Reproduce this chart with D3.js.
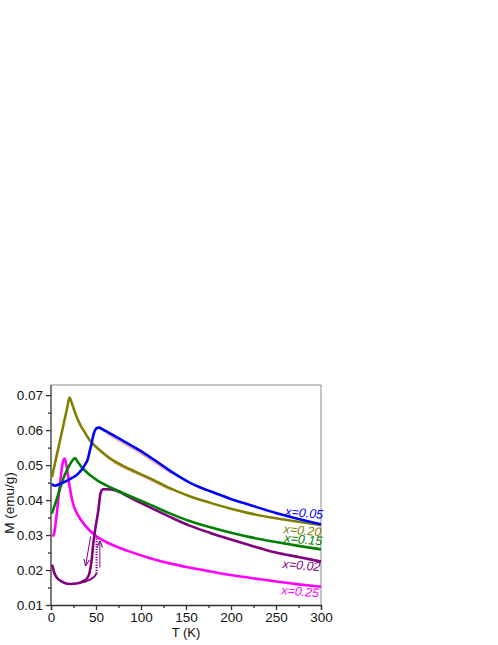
<!DOCTYPE html>
<html>
<head>
<meta charset="utf-8">
<script src="https://cdn.jsdelivr.net/npm/d3@7"></script>
<style>
  body { margin: 0; background: #fff; }
  svg text { font-family: "Liberation Sans", Arial, sans-serif; }
</style>
</head>
<body>
<svg id="chart" width="498" height="645"></svg>
<script>
// temperature (K) and magnetisation (emu/g) per composition
const blueT = [1, 4, 10, 19, 30, 37, 41, 43, 45, 47, 49, 51, 53, 58, 66, 77, 88, 100, 110, 121, 132, 143, 154, 166, 177, 199, 221, 250, 275, 300];
const blueM = [0.0446, 0.0441, 0.0446, 0.0457, 0.0475, 0.0498, 0.0518, 0.0540, 0.0560, 0.0585, 0.0600, 0.0606, 0.0607, 0.0601, 0.0590, 0.0574, 0.0558, 0.0540, 0.0523, 0.0504, 0.0484, 0.0466, 0.0450, 0.0436, 0.0425, 0.0404, 0.0386, 0.0363, 0.0346, 0.0331];

const oliveT = [1, 5, 10, 15, 18, 20.5, 23, 26, 29, 33, 36, 43, 54, 65, 77, 88, 99, 110, 121, 132, 143, 154, 177, 199, 221, 250, 275, 300];
const oliveM = [0.0465, 0.0512, 0.0570, 0.0629, 0.0664, 0.0693, 0.0678, 0.0655, 0.0635, 0.0613, 0.0600, 0.0571, 0.0543, 0.0520, 0.0502, 0.0488, 0.0475, 0.0462, 0.0448, 0.0434, 0.0422, 0.0411, 0.0392, 0.0376, 0.0362, 0.0348, 0.0338, 0.0329];

const greenT = [1, 6, 11.5, 15, 19, 23, 26.5, 30, 34, 40, 45, 51, 63, 73, 86, 99, 110, 132, 154, 177, 199, 221, 250, 275, 300];
const greenM = [0.0361, 0.0400, 0.0445, 0.0470, 0.0492, 0.0510, 0.0520, 0.0508, 0.0494, 0.0479, 0.0468, 0.0457, 0.0440, 0.0428, 0.0413, 0.0399, 0.0387, 0.0362, 0.0340, 0.0322, 0.0307, 0.0294, 0.0280, 0.0269, 0.0259];

const magentaT = [1.5, 3.5, 6, 9.6, 13.3, 15.2, 18, 20.7, 24.4, 30, 37.4, 48.5, 63, 86, 110, 132, 154, 177, 199, 221, 250, 275, 300];
const magentaM = [0.0296, 0.0305, 0.0352, 0.0438, 0.0509, 0.0519, 0.0486, 0.0438, 0.0391, 0.0357, 0.0329, 0.0300, 0.0278, 0.0254, 0.0234, 0.0219, 0.0207, 0.0196, 0.0186, 0.0178, 0.0167, 0.0159, 0.0152];

// x=0.02: cooling branch plus the separate warming branch and its jump
const purpleT = [1, 2, 3.3, 6.3, 12, 21, 30, 36, 40, 42.6, 45.2, 47, 49, 51, 52.6, 55, 58, 62, 71, 86, 99, 110, 132, 154, 177, 199, 221, 250, 275, 300];
const purpleM = [0.0215, 0.0208, 0.0195, 0.0179, 0.0167, 0.0160, 0.0162, 0.0168, 0.0176, 0.0190, 0.0229, 0.0276, 0.0314, 0.0345, 0.0371, 0.0419, 0.0431, 0.0431, 0.0428, 0.0410, 0.0393, 0.0379, 0.0352, 0.0327, 0.0306, 0.0288, 0.0271, 0.0250, 0.0237, 0.0224];
const purpleWarmT = [34, 38, 42, 45, 48, 50.7];
const purpleWarmM = [0.0165, 0.0167, 0.0171, 0.0175, 0.0181, 0.0190];
const purpleJumpT = [50.7, 50.7];
const purpleJumpM = [0.0190, 0.0300];

// faint fit curves under x=0.05 and x=0.20
const fitBlueT = [62, 75, 88, 100, 110, 121, 134];
const fitBlueM = [0.0594, 0.0574, 0.0555, 0.0537, 0.0520, 0.0501, 0.0480];
const fitOliveT = [70, 85, 99, 110, 121, 134];
const fitOliveM = [0.0511, 0.0491, 0.0475, 0.0462, 0.0448, 0.0432];

const xTicks = [0, 50, 100, 150, 200, 250, 300];
const yTicks = [0.01, 0.02, 0.03, 0.04, 0.05, 0.06, 0.07];

const labels = ['x=0.05', 'x=0.20', 'x=0.15', 'x=0.02', 'x=0.25'];
const labelT = [260, 258, 259, 257, 255.5];
const labelM = [0.0356, 0.0306, 0.0280, 0.0206, 0.0131];

const svg = d3.select('#chart');
const margin = { left: 51, top: 385 };
const w = 270;
const h = 220;

const x = d3.scaleLinear().domain([0, 300]).range([margin.left, margin.left + w]);
const y = d3.scaleLinear().domain([0.01, 0.0729]).range([margin.top + h, margin.top]);

// frame (top and right)
svg.append('path')
  .attr('d', `M${margin.left},${margin.top}H${margin.left + w}V${margin.top + h}`)
  .attr('fill', 'none')
  .attr('stroke', '#8a8a8a')
  .attr('stroke-width', 1);

// minor ticks
const xMinor = d3.range(25, 300, 50);
const yMinor = d3.range(0.015, 0.0729, 0.01);

const xAxis = d3.axisBottom(x).tickValues(xTicks).tickFormat(d3.format('d')).tickSizeOuter(0).tickSize(5).tickPadding(2);
const yAxis = d3.axisLeft(y).tickValues(yTicks).tickFormat(d3.format('.2f')).tickSizeOuter(0).tickSize(5).tickPadding(3);

const gx = svg.append('g').attr('transform', `translate(0,${margin.top + h})`).call(xAxis);
const gy = svg.append('g').attr('transform', `translate(${margin.left},0)`).call(yAxis);

gx.append('g').call(d3.axisBottom(x).tickValues(xMinor).tickFormat('').tickSize(3)).select('.domain').remove();
gy.append('g').call(d3.axisLeft(y).tickValues(yMinor).tickFormat('').tickSize(3)).select('.domain').remove();

[gx, gy].forEach((g) => {
  g.selectAll('.domain, line').attr('stroke', '#333').attr('stroke-width', 1.3);
  g.selectAll('text').attr('font-size', 13.5).attr('fill', '#111');
});
// keep y-axis line over the top frame corner
gy.select('.domain').attr('d', `M0,${margin.top}V${margin.top + h}`);

svg.append('text')
  .attr('x', margin.left + w / 2)
  .attr('y', 637)
  .attr('text-anchor', 'middle')
  .attr('font-size', 13)
  .attr('fill', '#111')
  .text('T (K)');

svg.append('text')
  .attr('transform', `translate(14,${margin.top + h / 2 + 8}) rotate(-90)`)
  .attr('text-anchor', 'middle')
  .attr('font-size', 13.5)
  .attr('fill', '#111')
  .text('M (emu/g)');

const line = d3.line()
  .x((d) => x(d[0]))
  .y((d) => y(d[1]))
  .curve(d3.curveMonotoneX);

const zip = (a, b) => a.map((v, i) => [v, b[i]]);

// fits first so the data lines sit on top
[[fitBlueT, fitBlueM], [fitOliveT, fitOliveM]].forEach(([t, m]) => {
  svg.append('path')
    .attr('d', line(zip(t, m).map((p) => [p[0], p[1] - 0.0004])))
    .attr('fill', 'none')
    .attr('stroke', '#f4a2a2')
    .attr('stroke-width', 1.6);
});

const series = [
  { t: magentaT, m: magentaM, color: '#ff00ff' },
  { t: purpleT, m: purpleM, color: '#800080' },
  { t: greenT, m: greenM, color: '#008000' },
  { t: oliveT, m: oliveM, color: '#808000' },
  { t: blueT, m: blueM, color: '#0000ff' },
];

series.forEach((s) => {
  svg.append('path')
    .attr('d', line(zip(s.t, s.m)))
    .attr('fill', 'none')
    .attr('stroke', s.color)
    .attr('stroke-width', 2.6)
    .attr('stroke-linejoin', 'round');
});

svg.append('path')
  .attr('d', line(zip(purpleWarmT, purpleWarmM)))
  .attr('fill', 'none')
  .attr('stroke', '#800080')
  .attr('stroke-width', 2);

svg.append('path')
  .attr('d', d3.line().x((d) => x(d[0])).y((d) => y(d[1]))(zip(purpleJumpT, purpleJumpM)))
  .attr('fill', 'none')
  .attr('stroke', '#800080')
  .attr('stroke-width', 2.2)
  .attr('stroke-dasharray', '1.2,1.4');

// hysteresis arrows
svg.append('defs').append('marker')
  .attr('id', 'head')
  .attr('viewBox', '0 0 10 10')
  .attr('refX', 9)
  .attr('refY', 5)
  .attr('markerWidth', 7)
  .attr('markerHeight', 7)
  .attr('orient', 'auto')
  .append('path')
  .attr('d', 'M0,1L10,5L0,9')
  .attr('fill', 'none')
  .attr('stroke', '#800080')
  .attr('stroke-width', 1.5);

const arrowT = [[44, 38.5], [54.3, 54.3]];
const arrowM = [[0.0296, 0.0213], [0.0207, 0.0282]];
arrowT.forEach((t, i) => {
  svg.append('line')
    .attr('x1', x(t[0])).attr('y1', y(arrowM[i][0]))
    .attr('x2', x(t[1])).attr('y2', y(arrowM[i][1]))
    .attr('stroke', '#800080')
    .attr('stroke-width', 1)
    .attr('marker-end', 'url(#head)');
});

const labelColors = ['#0000ff', '#808000', '#008000', '#800080', '#ff00ff'];
labels.forEach((txt, i) => {
  svg.append('text')
    .attr('transform', `translate(${x(labelT[i])},${y(labelM[i])}) rotate(5)`)
    .attr('font-size', 12.5)
    .attr('font-style', 'italic')
    .attr('fill', labelColors[i])
    .text(txt);
});
</script>
</body>
</html>
